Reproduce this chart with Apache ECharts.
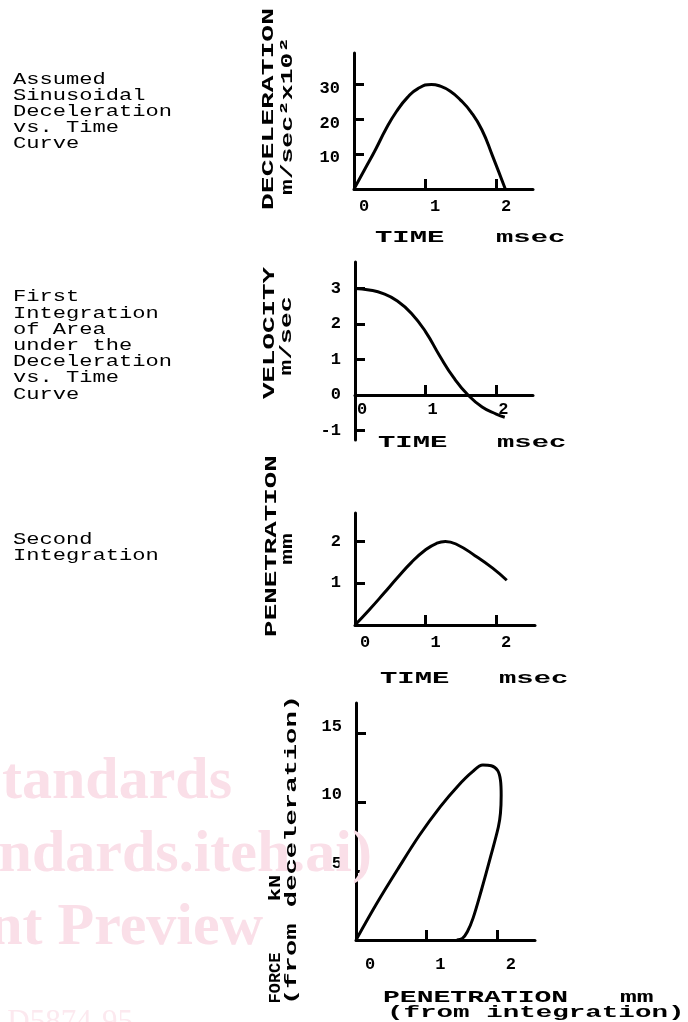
<!DOCTYPE html>
<html>
<head>
<meta charset="utf-8">
<script src="https://cdn.jsdelivr.net/npm/echarts@6/dist/echarts.min.js"></script>
<style>html,body{margin:0;padding:0;background:#fff}#c{width:688px;height:1022px}</style>
</head>
<body>
<div id="c"></div>
<script>
// ---- data ----
const timeTicks = [1, 2];
const timeLabels = [0, 1, 2];

const decelTime  = [0, 0.15, 0.3, 0.45, 0.6, 0.75, 0.9, 1.09, 1.2, 1.35, 1.5, 1.65, 1.8, 1.95, 2.13];
const decelValue = [0, 5.6, 11.2, 17.2, 22.3, 26.2, 28.8, 30, 29.6, 28.1, 25.5, 22, 17, 9.5, 0];
const decelTicks = [10, 20, 30];

const velTime  = [0, 0.2, 0.4, 0.6, 0.8, 1.0, 1.2, 1.4, 1.6, 1.8, 2.0, 2.12];
const velValue = [3, 2.96, 2.86, 2.65, 2.3, 1.78, 1.1, 0.48, 0, -0.34, -0.54, -0.63];
const velTicks = [-1, 1, 2, 3];
const velLabels = [-1, 0, 1, 2, 3];

const penTime  = [0, 0.2, 0.4, 0.6, 0.8, 1.0, 1.15, 1.28, 1.45, 1.7, 1.95, 2.15];
const penValue = [0, 0.36, 0.74, 1.13, 1.5, 1.8, 1.95, 2.0, 1.92, 1.66, 1.36, 1.07];
const penTicks = [1, 2];

const forcePen   = [0, 0.3, 0.6, 0.9, 1.2, 1.45, 1.65, 1.8, 1.92, 2.01, 2.05, 2.06, 2.05, 2.02, 1.91, 1.78, 1.66, 1.58, 1.51, 1.43];
const forceValue = [0, 2.7, 5.2, 7.6, 9.7, 11.2, 12.2, 12.7, 12.65, 12.3, 11.6, 10.5, 9.2, 8.2, 6.05, 3.63, 1.57, 0.6, 0.12, 0];
const forceTicks = [5, 10, 15];

// ---- helpers ----
const MONO = 'Liberation Mono';
const zip = (a, b) => a.map((v, i) => [v, b[i]]);
const LABEL = { color: '#000', fontFamily: MONO, fontWeight: 'bold', fontSize: 17 };

function xAxis(gi, max, margin, shift, tickVals, labelVals, offset) {
  return {
    type: 'value', gridIndex: gi, min: 0, max: max, position: 'bottom', offset: offset || 0,
    axisLine: { show: true, onZero: false, lineStyle: { color: '#000', width: 3 } },
    axisTick: { show: true, inside: true, length: 10, lineStyle: { color: '#000', width: 3 }, customValues: tickVals },
    axisLabel: Object.assign({ show: true, customValues: labelVals, margin: margin, padding: [0, 0, 0, shift * 2] }, LABEL),
    splitLine: { show: false }
  };
}
function yAxis(gi, min, max, tickVals, labelVals, va, lh) {
  return {
    type: 'value', gridIndex: gi, min: min, max: max,
    axisLine: { show: true, onZero: false, lineStyle: { color: '#000', width: 3 } },
    axisTick: { show: true, inside: true, length: 10, lineStyle: { color: '#000', width: 3 }, customValues: tickVals },
    axisLabel: Object.assign({ show: true, customValues: labelVals, margin: 14, verticalAlign: va, lineHeight: lh }, LABEL),
    splitLine: { show: false }
  };
}
function curve(gi, data, sm) {
  return { type: 'line', xAxisIndex: gi, yAxisIndex: gi, data: data, smooth: sm,
    showSymbol: false, symbol: 'none', lineStyle: { color: '#000', width: 3 }, z: 3, silent: true };
}
function txt(str, x, y, o) {
  o = o || {};
  const al = o.align || 'left', va = o.va || 'middle';
  return {
    type: 'text', x: x, y: y, rotation: o.rot || 0, scaleX: o.sx || 1, scaleY: 1, z: o.z || 20, silent: true,
    style: { text: str, fill: o.fill || '#000', fontFamily: o.font || MONO,
      fontWeight: o.weight || 'bold', fontSize: o.size || 17, lineHeight: o.lh,
      align: al, textAlign: al, verticalAlign: va, textVerticalAlign: va }
  };
}
const R = Math.PI / 2;
const SERIF = 'Liberation Serif';
const WM = '#fadfe8';

// grid geometry
const grids = [
  { left: 354, top: 53, width: 179, height: 136 },
  { left: 355, top: 262, width: 178, height: 178 },
  { left: 355, top: 513, width: 180, height: 112 },
  { left: 356, top: 703, width: 179, height: 237 }
];
const velMin = -1.27, velMax = 3.75;
// move the velocity time axis up to its zero line
const velZeroOffset = -(0 - velMin) / (velMax - velMin) * grids[1].height;

const graphics = [
  // watermark
  txt('iTeh Standards', 232, 782, { align: 'right', font: SERIF, size: 60, fill: WM, z: 1 }),
  txt('(https://standards.iteh.ai)', 372, 855, { align: 'right', font: SERIF, size: 60, fill: WM, z: 1 }),
  txt('Document Preview', 263, 928, { align: 'right', font: SERIF, size: 60, fill: WM, z: 1 }),
  txt('ASTM D5874-95', 133, 1023, { align: 'right', font: SERIF, size: 31, weight: 'normal', fill: '#fce9ef', z: 1 }),
  // left descriptions
  txt('Assumed\nSinusoidal\nDeceleration\nvs. Time\nCurve', 13, 72, { va: 'top', size: 16, lh: 16, sx: 1.38, weight: 'normal' }),
  txt('First\nIntegration\nof Area\nunder the\nDeceleration\nvs. Time\nCurve', 13, 289, { va: 'top', size: 16, lh: 16.2, sx: 1.38, weight: 'normal' }),
  txt('Second\nIntegration', 13, 532, { va: 'top', size: 16, lh: 16, sx: 1.38, weight: 'normal' }),
  // chart 1 titles
  txt('DECELERATION', 269, 109, { align: 'center', rot: R, sx: 1.65 }),
  txt('m/sec\u00b2x10\u00b2', 288, 116, { align: 'center', rot: R, sx: 1.55 }),
  txt('TIME', 375, 238, { sx: 1.7 }),
  txt('msec', 496, 238, { sx: 1.7 }),
  // chart 2 titles
  txt('VELOCITY', 270, 333, { align: 'center', rot: R, sx: 1.62 }),
  txt('m/sec', 287, 336, { align: 'center', rot: R, sx: 1.55 }),
  txt('TIME', 378, 443, { sx: 1.7 }),
  txt('msec', 497, 443, { sx: 1.7 }),
  // chart 3 titles
  txt('PENETRATION', 272, 546, { align: 'center', rot: R, sx: 1.62 }),
  txt('mm', 288, 549, { align: 'center', rot: R, sx: 1.55 }),
  txt('TIME', 380, 679, { sx: 1.7 }),
  txt('msec', 499, 679, { sx: 1.7 }),
  // chart 4 titles
  txt('FORCE', 276, 978, { align: 'center', rot: R, sx: 1.0 }),
  txt('kN', 276, 888, { align: 'center', rot: R, sx: 1.3 }),
  txt('(from deceleration)', 292, 850, { align: 'center', rot: R, sx: 1.6 }),
  txt('PENETRATION', 383, 998, { sx: 1.65 }),
  txt('mm', 620, 998, { sx: 1.65 }),
  txt('(from integration)', 387, 1013, { sx: 1.62 })
];

const chart = echarts.init(document.getElementById('c'), null, { renderer: 'canvas' });
chart.setOption({
  animation: false,
  backgroundColor: '#fff',
  grid: grids,
  xAxis: [
    xAxis(0, 2.52, 9, 10, timeTicks, timeLabels),
    xAxis(1, 2.52, 6, 7, timeTicks, timeLabels, velZeroOffset),
    xAxis(2, 2.55, 9, 10, timeTicks, timeLabels),
    xAxis(3, 2.54, 16, 14, timeTicks, timeLabels)
  ],
  yAxis: [
    yAxis(0, 0, 39, decelTicks, decelTicks, 'top', 8),
    yAxis(1, velMin, velMax, velTicks, velLabels, 'middle'),
    yAxis(2, 0, 2.68, penTicks, penTicks, 'middle'),
    yAxis(3, 0, 17.2, forceTicks, forceTicks, 'bottom', 14)
  ],
  series: [
    curve(0, zip(decelTime, decelValue), 0.5),
    curve(1, zip(velTime, velValue), 0.5),
    curve(2, zip(penTime, penValue), 0.5),
    curve(3, zip(forcePen, forceValue), 0.35)
  ],
  graphic: { elements: graphics }
});
</script>
</body>
</html>
